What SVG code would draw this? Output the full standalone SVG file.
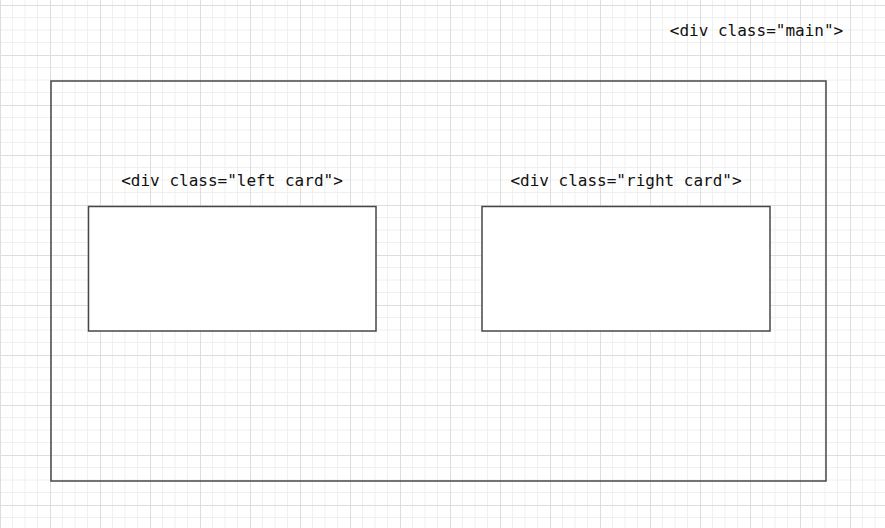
<svg xmlns="http://www.w3.org/2000/svg" width="885" height="528" viewBox="0 0 885 528">
  <defs>
    <pattern id="grid" patternUnits="userSpaceOnUse" x="0" y="5" width="50" height="50">
      <path d="M12.5 0V50M25 0V50M37.5 0V50M0 12.5H50M0 25H50M0 37.5H50" stroke="#f0f0f0" stroke-width="1" fill="none"/>
      <path d="M0.5 0V50M0 0.5H50" stroke="#dddddd" stroke-width="1" fill="none"/>
    </pattern>
    <style>
      .box { fill: #ffffff; stroke: #474747; stroke-width: 1.5; }
      .main { fill: none; stroke: #474747; stroke-width: 1.5; }
      .lbl { font-family: "DejaVu Sans Mono", "Liberation Mono", monospace; font-size: 16px; fill: #111111; text-anchor: middle; }
    </style>
  </defs>
  <rect width="885" height="528" fill="#ffffff"/>
  <rect width="885" height="528" fill="url(#grid)"/>
  <g id="main">
    <rect class="main" x="51" y="81" width="775" height="400"/>
    <text class="lbl" x="756.5" y="36">&lt;div class="main"&gt;</text>
  </g>
  <g id="left-card">
    <rect class="box" x="88.5" y="206.5" width="287.5" height="124.5"/>
    <text class="lbl" x="232" y="186">&lt;div class="left card"&gt;</text>
  </g>
  <g id="right-card">
    <rect class="box" x="482" y="206.5" width="288" height="124.5"/>
    <text class="lbl" x="626" y="186">&lt;div class="right card"&gt;</text>
  </g>
  <g id="connectors"/>
</svg>
